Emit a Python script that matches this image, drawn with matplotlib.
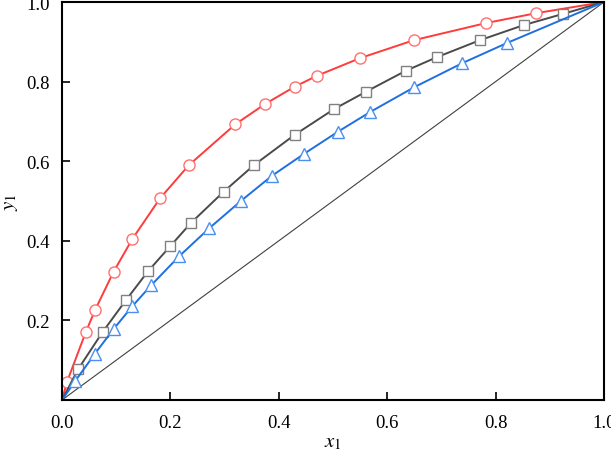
import matplotlib.pyplot as plt

# red circles
x_red = [0.0, 0.009, 0.044, 0.061, 0.095, 0.130, 0.181, 0.234, 0.320, 0.375,
         0.429, 0.471, 0.550, 0.649, 0.782, 0.875, 1.0]
y_red = [0.0, 0.045, 0.171, 0.226, 0.322, 0.405, 0.507, 0.590, 0.693, 0.744,
         0.787, 0.815, 0.859, 0.904, 0.947, 0.972, 1.0]

# gray squares
x_gray = [0.0, 0.030, 0.075, 0.118, 0.159, 0.200, 0.238, 0.298, 0.354, 0.429,
          0.502, 0.560, 0.634, 0.691, 0.771, 0.852, 0.924, 1.0]
y_gray = [0.0, 0.078, 0.171, 0.251, 0.324, 0.387, 0.445, 0.523, 0.590, 0.666,
          0.731, 0.774, 0.827, 0.861, 0.904, 0.942, 0.970, 1.0]

# blue triangles
x_blue = [0.0, 0.024, 0.060, 0.095, 0.130, 0.165, 0.216, 0.272, 0.330, 0.387,
          0.446, 0.509, 0.569, 0.650, 0.738, 0.821, 1.0]
y_blue = [0.0, 0.047, 0.115, 0.178, 0.236, 0.289, 0.361, 0.432, 0.500, 0.563,
          0.618, 0.674, 0.724, 0.786, 0.846, 0.897, 1.0]

x_ticks = [0.0, 0.2, 0.4, 0.6, 0.8, 1.0]
y_ticks = [0.2, 0.4, 0.6, 0.8, 1.0]


def main():
    plt.rcParams['font.family'] = ['Liberation Serif', 'DejaVu Serif']
    plt.rcParams['mathtext.fontset'] = 'stix'

    fig = plt.figure(figsize=(6.11, 4.56), dpi=100)
    ax = fig.add_axes([0.1015, 0.1206, 0.887, 0.8728])

    ax.plot([0, 1], [0, 1], color='#404040', lw=0.8)

    ax.plot(x_red, y_red, color='#ff3b3b', lw=1.4, marker='o',
            markersize=8, markerfacecolor='white', markeredgecolor='#ff7070',
            markeredgewidth=1.0, markevery=slice(1, -1))
    ax.plot(x_gray, y_gray, color='#4a4a4a', lw=1.4, marker='s',
            markersize=7, markerfacecolor='white', markeredgecolor='#808080',
            markeredgewidth=1.0, markevery=slice(1, -1))
    ax.plot(x_blue, y_blue, color='#1f6fe0', lw=1.4, marker='^',
            markersize=8.5, markerfacecolor='white', markeredgecolor='#4a90f0',
            markeredgewidth=1.0, markevery=slice(1, -1))

    ax.set_xlim(0, 1)
    ax.set_ylim(0, 1)
    ax.set_xticks(x_ticks)
    ax.set_xticklabels([f'{t:.1f}' for t in x_ticks])
    ax.set_yticks(y_ticks)
    ax.set_yticklabels([f'{t:.1f}' for t in y_ticks])
    ax.tick_params(direction='in', length=6, width=1.2, labelsize=13.5)
    ax.tick_params(axis='x', pad=10)
    ax.tick_params(axis='y', pad=9)
    for s in ax.spines.values():
        s.set_linewidth(1.5)

    ax.set_xlabel(r'$x_1$', fontsize=15, labelpad=1)
    ax.set_ylabel(r'$y_1$', fontsize=15, labelpad=4)

    fig.savefig('out.png', dpi=100)


if __name__ == "__main__":
    main()
